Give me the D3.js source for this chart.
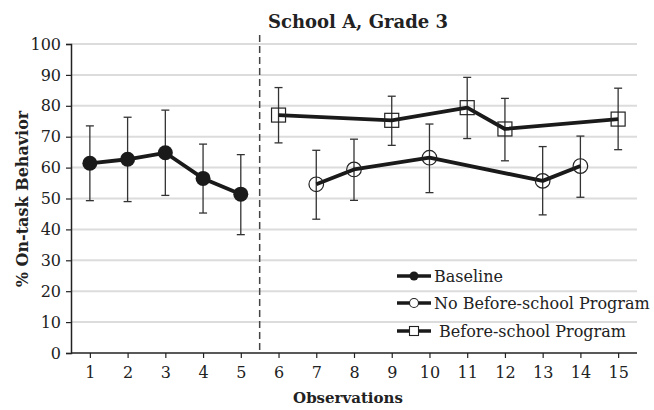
<!DOCTYPE html>
<html><head><meta charset="utf-8">
<script src="https://cdn.jsdelivr.net/npm/d3@7"></script>
<style>body{margin:0;background:#fff}svg{display:block}text{font-family:"DejaVu Serif",serif;fill:#222}</style>
</head><body><svg id="c" width="654" height="410"></svg>
<script>
const baselineX = [1,2,3,4,5];
const baselineY = [61.4,62.7,64.8,56.5,51.4];
const baselineHi = [73.5,76.3,78.6,67.6,64.2];
const baselineLo = [49.3,49.0,51.0,45.3,38.3];
const noProgX = [7,8,10,13,14];
const noProgY = [54.6,59.4,63.2,55.7,60.5];
const noProgHi = [65.6,69.2,74.1,66.8,70.2];
const noProgLo = [43.3,49.4,51.9,44.7,50.4];
const progX = [6,9,11,12,15];
const progY = [77.0,75.3,79.4,72.5,75.7];
const progHi = [85.9,83.1,89.2,82.4,85.7];
const progLo = [68.0,67.2,69.4,62.2,65.8];
const xTicks = [1,2,3,4,5,6,7,8,9,10,11,12,13,14,15];
const yTicks = [0,10,20,30,40,50,60,70,80,90,100];
const phaseChange = 5.5;
const legendLabels = ["Baseline","No Before-school Program","Before-school Program"];

const svg = d3.select("#c");
const x = d3.scaleLinear().domain([0.5,15.5]).range([71,637]);
const y = d3.scaleLinear().domain([0,100]).range([353,44]);

// gridlines
svg.append("g").selectAll("line").data(yTicks.filter(d=>d>0)).join("line")
  .attr("x1",x(0.5)).attr("x2",x(15.5)).attr("y1",d=>y(d)).attr("y2",d=>y(d))
  .attr("stroke","#dcdcdc").attr("stroke-width",2);

// axes
const ya = svg.append("g").attr("transform",`translate(${x(0.5)},0)`)
  .call(d3.axisLeft(y).tickValues(yTicks).tickSize(5).tickPadding(5));
const xa = svg.append("g").attr("transform",`translate(0,${y(0)})`)
  .call(d3.axisBottom(x).tickValues(xTicks).tickSize(5).tickPadding(9));
[ya,xa].forEach(a=>{
  a.select(".domain").attr("stroke","#222").attr("stroke-width",1.5);
  a.selectAll(".tick line").attr("stroke","#222").attr("stroke-width",1.2);
  a.selectAll("text").style("font-family","DejaVu Serif").attr("font-size",16).attr("fill","#222");
});
xa.select(".domain").attr("d",`M${x(0.5)},0H${x(15.5)}`);

// phase line
svg.append("line").attr("x1",x(phaseChange)).attr("x2",x(phaseChange))
  .attr("y1",35).attr("y2",y(0)).attr("stroke","#444").attr("stroke-width",1.5)
  .attr("stroke-dasharray","7,4");

function series(xs,ys,his,los,marker){
  const g = svg.append("g");
  const pts = xs.map((d,i)=>({x:d,y:ys[i],hi:his[i],lo:los[i]}));
  g.selectAll("line.eb").data(pts).join("line").attr("class","eb")
    .attr("x1",d=>x(d.x)).attr("x2",d=>x(d.x)).attr("y1",d=>y(d.hi)).attr("y2",d=>y(d.lo))
    .attr("stroke","#333").attr("stroke-width",1.3);
  ["hi","lo"].forEach(k=>g.selectAll("line."+k).data(pts).join("line").attr("class",k)
    .attr("x1",d=>x(d.x)-4).attr("x2",d=>x(d.x)+4).attr("y1",d=>y(d[k])).attr("y2",d=>y(d[k]))
    .attr("stroke","#333").attr("stroke-width",1.3));
  g.append("path").datum(pts).attr("fill","none").attr("stroke","#1a1a1a").attr("stroke-width",3.8)
    .attr("stroke-linejoin","round")
    .attr("d",d3.line().x(d=>x(d.x)).y(d=>y(d.y)));
  drawMarkers(g,pts,marker);
}
function drawMarkers(g,pts,marker){
  if(marker==="filled"){
    g.selectAll("circle.m").data(pts).join("circle").attr("class","m")
      .attr("cx",d=>x(d.x)).attr("cy",d=>y(d.y)).attr("r",7.5).attr("fill","#1a1a1a");
  } else if(marker==="circle"){
    g.selectAll("circle.m").data(pts).join("circle").attr("class","m")
      .attr("cx",d=>x(d.x)).attr("cy",d=>y(d.y)).attr("r",7.3).attr("fill","none")
      .attr("stroke","#222").attr("stroke-width",1.2);
  } else {
    g.selectAll("rect.m").data(pts).join("rect").attr("class","m")
      .attr("x",d=>x(d.x)-7).attr("y",d=>y(d.y)-7).attr("width",14).attr("height",14)
      .attr("fill","none").attr("stroke","#222").attr("stroke-width",1.2);
  }
}
series(baselineX,baselineY,baselineHi,baselineLo,"filled");
series(noProgX,noProgY,noProgHi,noProgLo,"circle");
series(progX,progY,progHi,progLo,"square");

// legend
const legY = [276,303,331];
const legMarkers = ["filled","circle","square"];
legendLabels.forEach((lab,i)=>{
  const g = svg.append("g");
  g.append("line").attr("x1",397).attr("x2",431).attr("y1",legY[i]).attr("y2",legY[i])
    .attr("stroke","#1a1a1a").attr("stroke-width",3.5);
  const cx = 414;
  if(legMarkers[i]==="filled") g.append("circle").attr("cx",cx).attr("cy",legY[i]).attr("r",4.5).attr("fill","#1a1a1a");
  else if(legMarkers[i]==="circle") g.append("circle").attr("cx",cx).attr("cy",legY[i]).attr("r",4.5).attr("fill","#fff").attr("stroke","#222").attr("stroke-width",1.1);
  else g.append("rect").attr("x",cx-4.5).attr("y",legY[i]-4.5).attr("width",9).attr("height",9).attr("fill","#fff").attr("stroke","#222").attr("stroke-width",1.1);
  g.append("text").attr("x",i===2?439:434).attr("y",legY[i]).attr("dy","0.35em")
    .attr("font-size",16).text(lab);
});

// titles
svg.append("text").attr("x",358).attr("y",28).attr("text-anchor","middle")
  .attr("font-size",18).attr("font-weight","bold").text("School A, Grade 3");
svg.append("text").attr("x",348).attr("y",403).attr("text-anchor","middle")
  .attr("font-size",15).attr("font-weight","bold").text("Observations");
svg.append("text").attr("transform","translate(28,199) rotate(-90)").attr("text-anchor","middle")
  .attr("font-size",16).attr("font-weight","bold").text("% On-task Behavior");
</script></body></html>
